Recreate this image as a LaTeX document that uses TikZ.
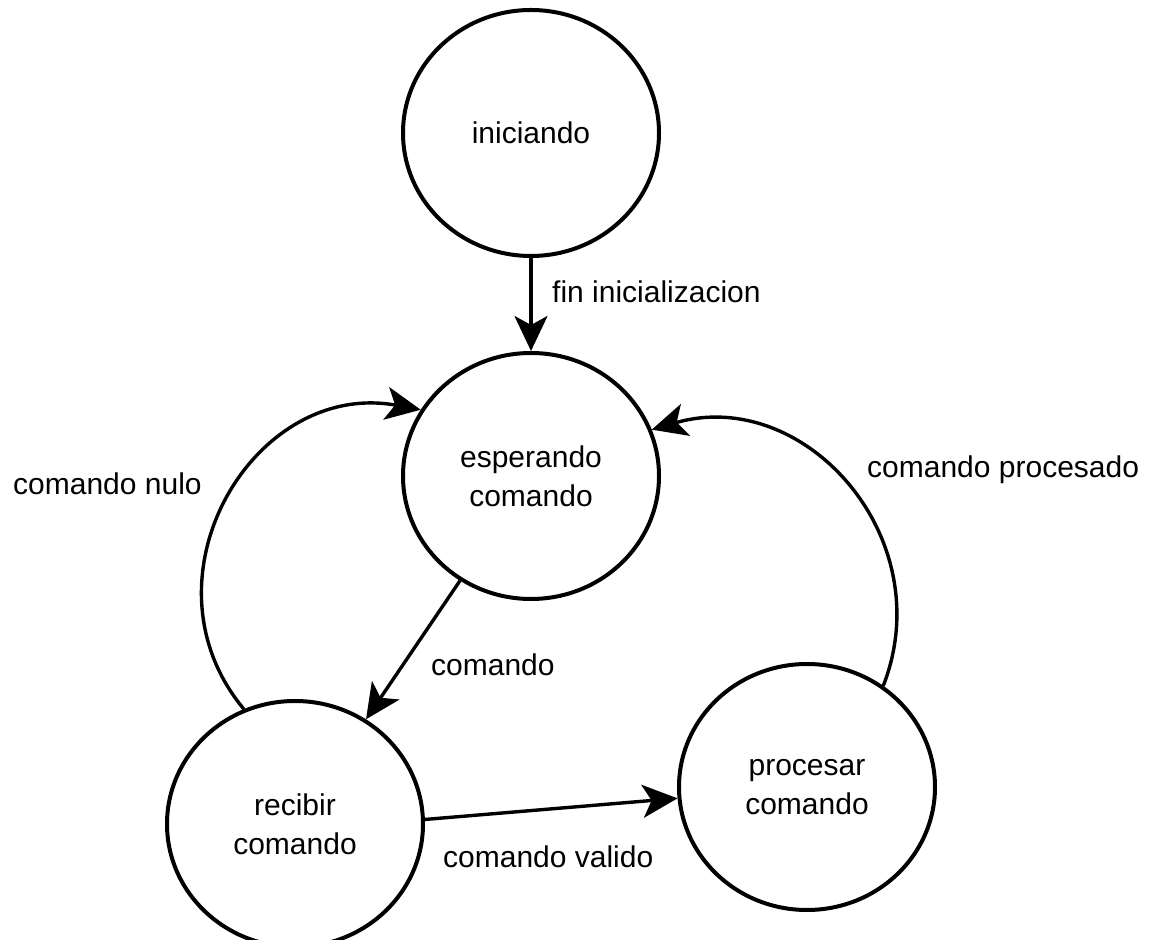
\documentclass[tikz,border=0pt]{standalone}
\usepackage{fontspec}
\setmainfont{Liberation Sans}
\usetikzlibrary{arrows.meta,shapes.geometric}
\begin{document}
\begin{tikzpicture}[x=1pt,y=1pt,
  state/.style={ellipse,draw,line width=4pt,minimum width=256pt,minimum height=246pt,
    inner sep=0pt,align=center,font=\fontsize{30}{39}\selectfont},
  trans/.style={line width=3.4pt,-{Stealth[length=35pt,width=33pt,inset=9pt]}},
  lbl/.style={anchor=base west,inner sep=0pt,font=\fontsize{30}{39}\selectfont}]
\useasboundingbox (0,0) rectangle (1152,940);

% states
\node[state] (ini) at (531,807) {iniciando};
\node[state] (esp) at (531,464) {esperando\\comando};
\node[state] (rec) at (295,116) {recibir\\comando};
\node[state] (pro) at (807,153) {procesar\\comando};

% transitions
\draw[trans] (ini) -- (esp);
\draw[trans] (esp) -- (rec);
\draw[trans] (rec.2) -- (pro.185);
\draw[trans] (rec.114) .. controls +(129.8:170) and +(169.6:170) .. (esp.149);
\draw[trans] (pro.53) .. controls +(68.7:159) and +(16.1:159) .. (esp.21);

% transition labels
\node[lbl] (l1) at (552,637) {fin inicializacion};
\node[lbl] (l2) at (431,264) {comando};
\node[lbl] (l3) at (443,72) {comando valido};
\node[lbl] (l4) at (13,445) {comando nulo};
\node[lbl] (l5) at (867,462) {comando procesado};
\end{tikzpicture}
\end{document}
